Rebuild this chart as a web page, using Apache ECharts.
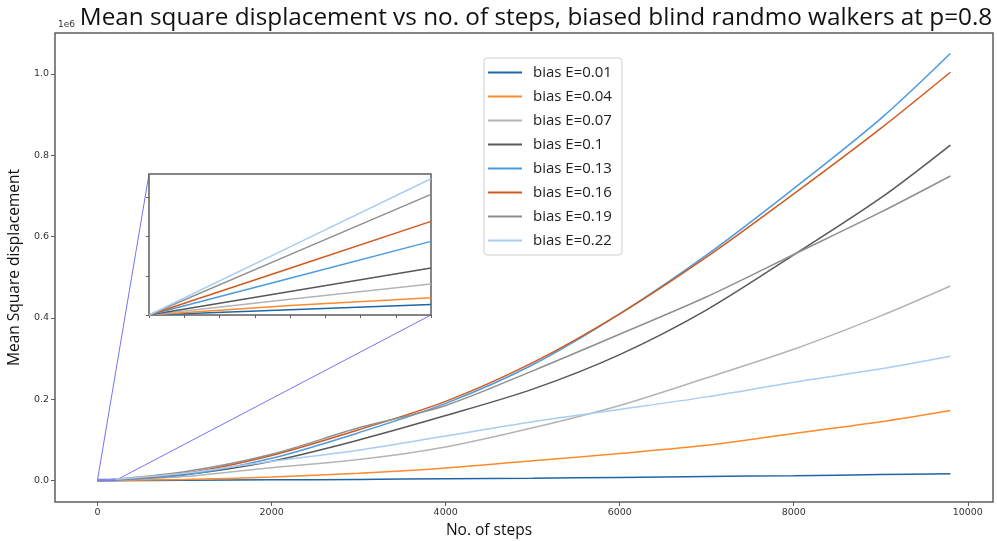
<!DOCTYPE html>
<html><head><meta charset="utf-8">
<script src="https://cdn.jsdelivr.net/npm/echarts@6/dist/echarts.min.js"></script>
<style>html,body{margin:0;padding:0;background:#fff}#c{width:997px;height:541px}</style>
</head><body><div id="c"></div>
<script>
// ---- data ----
const steps = [0, 1000, 2000, 3000, 4000, 5000, 6000, 7000, 8000, 9000, 9800];
const seriesNames = ['bias E=0.01', 'bias E=0.04', 'bias E=0.07', 'bias E=0.1', 'bias E=0.13', 'bias E=0.16', 'bias E=0.19', 'bias E=0.22'];
const msdE001 = [0, 1000, 2000, 3000, 5000, 6000, 8000, 10500, 12000, 15000, 17200];
const msdE004 = [0, 3000, 9000, 18000, 31000, 49000, 67000, 87000, 116000, 145000, 172600];
const msdE007 = [0, 10000, 32000, 52000, 83000, 130000, 185000, 253000, 323000, 405000, 478500];
const msdE010 = [0, 15000, 48000, 100000, 160000, 225000, 310000, 420000, 555000, 695000, 825000];
const msdE013 = [0, 14000, 55000, 118000, 190000, 285000, 410000, 555000, 718000, 890000, 1050000];
const msdE016 = [0, 18000, 62000, 125000, 195000, 290000, 410000, 550000, 705000, 866000, 1004000];
const msdE019 = [0, 22000, 65000, 130000, 185000, 270000, 360000, 452000, 556000, 660000, 749000];
const msdE022 = [0, 18000, 48000, 75000, 110000, 145000, 175000, 206000, 242000, 275000, 306000];
// inset (zoom on the first 200 steps)
const insetSteps = [0, 100, 200];
const insetE001 = [0, 135, 270];
const insetE004 = [0, 240, 440];
const insetE007 = [0, 400, 790];
const insetE010 = [0, 600, 1200];
const insetE013 = [0, 940, 1880];
const insetE016 = [0, 1195, 2390];
const insetE019 = [0, 1540, 3080];
const insetE022 = [0, 1740, 3480];
const xTicks = [0, 2000, 4000, 6000, 8000, 10000];
const yTicks = [0, 200000, 400000, 600000, 800000, 1000000];
const insetXTicks = [0, 25, 50, 75, 100, 125, 150, 175, 200];
const insetYTicks = [0, 1000, 2000, 3000];
const titleText = 'Mean square displacement vs no. of steps, biased blind randmo walkers at p=0.8';

// ---- styling ----
const colors = ['#1f66a6', '#ff8a2b', '#b4b4b4', '#585858', '#4b9be0', '#d2591d', '#8f8f8f', '#a8cdf0'];
const mainData = [msdE001, msdE004, msdE007, msdE010, msdE013, msdE016, msdE019, msdE022];
const insetData = [insetE001, insetE004, insetE007, insetE010, insetE013, insetE016, insetE019, insetE022];
const frame = '#5e5e5e';
const tickFont = 'DejaVu Sans';

// fit title width
const cv = document.createElement('canvas').getContext('2d');
let tSize = 22;
cv.font = tSize + 'px "Open Sans"';
tSize = Math.round(tSize * 914 / cv.measureText(titleText).width * 10) / 10;

const chart = echarts.init(document.getElementById('c'));
const series = [];
seriesNames.forEach((n, i) => {
  series.push({
    name: n, type: 'line', xAxisIndex: 0, yAxisIndex: 0, showSymbol: false, smooth: 0.3,
    data: steps.map((s, k) => [s, mainData[i][k]]),
    lineStyle: { color: colors[i], width: 1.5 }, itemStyle: { color: colors[i] }
  });
});
seriesNames.forEach((n, i) => {
  series.push({
    name: n, type: 'line', xAxisIndex: 1, yAxisIndex: 1, showSymbol: false, z: 5,
    data: insetSteps.map((s, k) => [s, insetData[i][k]]),
    lineStyle: { color: colors[i], width: 1.5 }, itemStyle: { color: colors[i] }
  });
});

const axisCommon = {
  axisLine: { show: false, onZero: false },
  splitLine: { show: false },
};

chart.setOption({
  animation: false,
  backgroundColor: '#fff',
  title: {
    text: titleText, left: 531, textAlign: 'center', top: 1,
    textStyle: { fontFamily: 'Open Sans', fontWeight: 'normal', fontSize: tSize, color: '#111' }
  },
  legend: {
    data: seriesNames, orient: 'vertical', left: 484, top: 58,
    icon: 'rect', itemWidth: 34, itemHeight: 2, itemGap: 9,
    padding: [7, 10, 7, 4],
    backgroundColor: '#fff', borderColor: '#d0d0d0', borderWidth: 1, borderRadius: 3,
    textStyle: { fontFamily: 'Open Sans', fontSize: 15, lineHeight: 15, color: '#222', padding: [0, 0, 0, 6] }
  },
  grid: [
    { left: 55, top: 33, right: 4, bottom: 39, outerBoundsMode: 'none', containLabel: false,
      show: true, borderColor: frame, borderWidth: 1.5, backgroundColor: '#fff' },
    { left: 149, top: 174, width: 282, height: 141, outerBoundsMode: 'none', containLabel: false,
      show: true, borderColor: frame, borderWidth: 1.5, backgroundColor: '#fff', z: 4 }
  ],
  xAxis: [
    Object.assign({}, axisCommon, {
      type: 'value', gridIndex: 0, min: -490, max: 10290,
      name: 'No. of steps', nameLocation: 'middle', nameGap: 19,
      nameTextStyle: { fontFamily: 'Open Sans', fontSize: 15.5, color: '#111', padding: [0, 70, 0, 0] },
      axisTick: { show: true, inside: false, length: 4, customValues: xTicks, lineStyle: { color: frame } },
      axisLabel: { customValues: xTicks, fontFamily: tickFont, fontSize: 9.5, color: '#333', margin: 6,
        formatter: v => String(v) }
    }),
    Object.assign({}, axisCommon, {
      type: 'value', gridIndex: 1, min: 0, max: 200, z: 5,
      axisTick: { show: true, inside: false, length: 3, customValues: insetXTicks, lineStyle: { color: frame } },
      axisLabel: { show: false, customValues: insetXTicks }
    })
  ],
  yAxis: [
    Object.assign({}, axisCommon, {
      type: 'value', gridIndex: 0, min: -52400, max: 1100400,
      name: 'Mean Square displacement', nameLocation: 'middle', nameGap: 28,
      nameTextStyle: { fontFamily: 'Open Sans', fontSize: 15.5, color: '#111' },
      axisTick: { show: true, inside: false, length: 4, customValues: yTicks, lineStyle: { color: frame } },
      axisLabel: { customValues: yTicks, fontFamily: tickFont, fontSize: 9.5, color: '#333', margin: 6,
        formatter: v => (v / 1e6).toFixed(1) }
    }),
    Object.assign({}, axisCommon, {
      type: 'value', gridIndex: 1, min: 0, max: 3600, z: 5,
      axisTick: { show: true, inside: false, length: 3, customValues: insetYTicks, lineStyle: { color: frame } },
      axisLabel: { show: false, customValues: insetYTicks }
    })
  ],
  series: series
});

// zoom-inset markers, placed through the axes' own scales
const rUL = chart.convertToPixel({ gridIndex: 0 }, [0, 3600]);
const rLR = chart.convertToPixel({ gridIndex: 0 }, [200, 0]);
const iUL = chart.convertToPixel({ gridIndex: 1 }, [0, 3600]);
const iLR = chart.convertToPixel({ gridIndex: 1 }, [200, 0]);
const mark = { stroke: '#7474f5', lineWidth: 1, fill: null };
chart.setOption({
  graphic: [
    { type: 'rect', z: 6, shape: { x: rUL[0], y: rUL[1], width: rLR[0] - rUL[0], height: Math.max(1, rLR[1] - rUL[1]) }, style: mark },
    { type: 'line', z: 3, shape: { x1: rUL[0], y1: rUL[1], x2: iUL[0], y2: iUL[1] }, style: mark },
    { type: 'line', z: 3, shape: { x1: rLR[0], y1: rLR[1], x2: iLR[0], y2: iLR[1] }, style: mark },
    { type: 'text', left: 58, top: 20, style: { text: '1e6', font: '9px "DejaVu Sans"', fill: '#333' } }
  ]
});
</script></body></html>
